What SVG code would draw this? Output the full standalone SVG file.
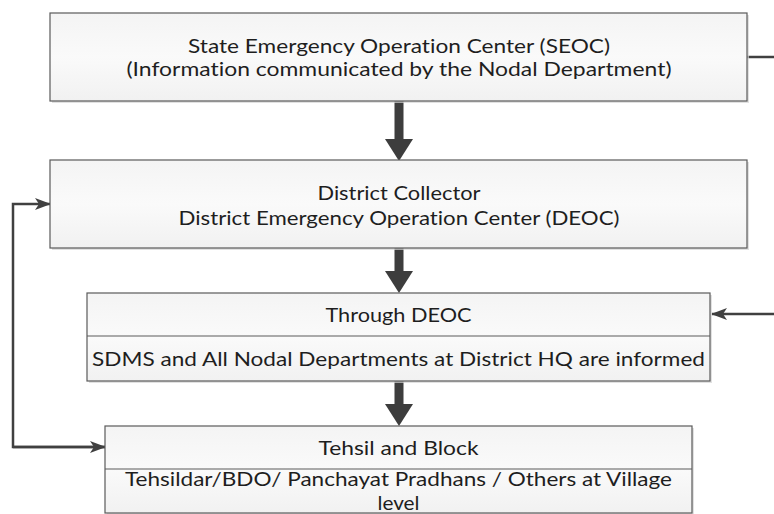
<svg xmlns="http://www.w3.org/2000/svg" width="774" height="514" viewBox="0 0 774 514">
<defs>
<linearGradient id="g" x1="0" y1="0" x2="0" y2="1">
<stop offset="0" stop-color="#f4f4f4"/>
<stop offset="0.5" stop-color="#fafafa"/>
<stop offset="1" stop-color="#f1f1f1"/>
</linearGradient>
<marker id="ah" markerWidth="16" markerHeight="12" refX="15" refY="6" orient="auto" markerUnits="userSpaceOnUse">
<path d="M0,0 L16,6 L0,12 L4,6 Z" fill="#404040"/>
</marker>
</defs>
<style>
.box{fill:url(#g);stroke:#5a5a5a;stroke-width:1.2}
.sh{fill:#d4d4d4;opacity:0.7}
.div{stroke:#5a5a5a;stroke-width:1.2}
.t{font-family:Lato,"Open Sans","Liberation Sans",sans-serif;font-size:19px;fill:#1e1e1e;text-anchor:middle;font-variant-ligatures:none;font-feature-settings:"liga" 0,"dlig" 0}
.con{fill:none;stroke:#404040;stroke-width:2.5}
.big{stroke:#3d3d3d;stroke-width:9;stroke-linecap:round}
.head{fill:#3d3d3d}
</style>
<rect width="774" height="514" fill="#ffffff"/>
<g id="connectors">
<path class="con" d="M747,57 H774"/>
<path class="con" d="M774,314 H712" marker-end="url(#ah)"/>
<path class="con" d="M105,447 H13 V204 H50" marker-end="url(#ah)"/>
<path class="con" d="M13,447 H105" marker-end="url(#ah)"/>
<line class="big" x1="399" y1="98" x2="399" y2="140"/>
<polygon class="head" points="385,139 413,139 399,161"/>
<line class="big" x1="399" y1="246" x2="399" y2="273"/>
<polygon class="head" points="385,271 413,271 399,293"/>
<line class="big" x1="399" y1="379" x2="399" y2="406"/>
<polygon class="head" points="385,404 413,404 399,426"/>
</g>
<g id="seoc">
<rect class="sh" x="52" y="15" width="697" height="88"/>
<rect class="box" x="50" y="13" width="697" height="88"/>
<text class="t" x="399" y="53" textLength="422" lengthAdjust="spacingAndGlyphs">State Emergency Operation Center (SEOC)</text>
<text class="t" x="399" y="76" textLength="545" lengthAdjust="spacingAndGlyphs">(Information communicated by the Nodal Department)</text>
</g>
<g id="deoc">
<rect class="sh" x="52" y="162" width="697" height="88"/>
<rect class="box" x="50" y="160" width="697" height="88"/>
<text class="t" x="399" y="200" textLength="163" lengthAdjust="spacingAndGlyphs">District Collector</text>
<text class="t" x="399" y="225" textLength="441" lengthAdjust="spacingAndGlyphs">District Emergency Operation Center (DEOC)</text>
</g>
<g id="through-deoc">
<rect class="sh" x="89" y="295" width="623" height="88"/>
<rect class="box" x="87" y="293" width="623" height="88"/>
<line class="div" x1="87" y1="336" x2="710" y2="336"/>
<text class="t" x="398.5" y="322" textLength="146" lengthAdjust="spacingAndGlyphs">Through DEOC</text>
<text class="t" x="398.5" y="366" textLength="613" lengthAdjust="spacingAndGlyphs">SDMS  and All Nodal Departments at District HQ are informed</text>
</g>
<g id="tehsil">
<rect class="sh" x="107" y="428" width="587" height="88"/>
<rect class="box" x="105" y="426" width="587" height="87"/>
<line class="div" x1="105" y1="469" x2="692" y2="469"/>
<text class="t" x="398.5" y="455" textLength="160" lengthAdjust="spacingAndGlyphs">Tehsil and Block</text>
<text class="t" x="398.5" y="486" textLength="547" lengthAdjust="spacingAndGlyphs">Tehsildar/BDO/ Panchayat Pradhans / Others at Village</text>
<text class="t" x="398.5" y="510" textLength="42" lengthAdjust="spacingAndGlyphs">level</text>
</g>
</svg>
